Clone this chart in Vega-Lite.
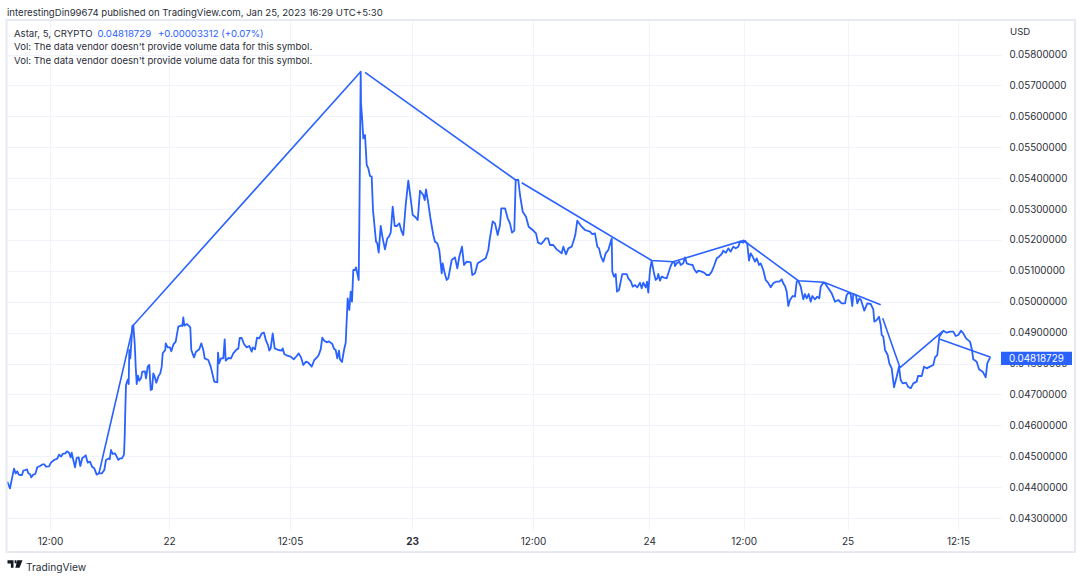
{
"$schema":"https://vega.github.io/schema/vega-lite/v6.json",
"width":994,"height":510,
"autosize":{"type":"none"},
"padding":{"left":7,"top":20,"right":82,"bottom":49},
"background":"white",
"config":{"view":{"stroke":null},"text":{"font":"Inter","fontSize":9.6,"color":"#2a2e39","align":"left","baseline":"middle"}},
"datasets":{
"drawing":[
{"leg":"a","t":9.9,"price":0.044447},{"leg":"a","t":13.33,"price":0.049237},{"leg":"a","t":36.07,"price":0.057444},
{"leg":"b","t":36.5,"price":0.057424},{"leg":"b","t":51.57,"price":0.053939},
{"leg":"c","t":52.17,"price":0.053851},{"leg":"c","t":65.17,"price":0.051334},{"leg":"c","t":67.33,"price":0.051295},{"leg":"c","t":74.35,"price":0.051981},{"leg":"c","t":79.83,"price":0.05068},{"leg":"c","t":82.4,"price":0.050628},{"leg":"c","t":88.07,"price":0.049903},
{"leg":"d","t":88.27,"price":0.049463},{"leg":"d","t":90,"price":0.047864},{"leg":"d","t":94.23,"price":0.049029},
{"leg":"e","t":94,"price":0.048784},{"leg":"e","t":99.07,"price":0.048201}
],
"close":[
{"t":0.7,"price":0.044177},{"t":0.83,"price":0.044101},{"t":1,"price":0.043961},{"t":1.2,"price":0.044285},{"t":1.4,"price":0.044597},{"t":1.57,"price":0.044446},{"t":1.73,"price":0.044511},{"t":1.87,"price":0.044403},{"t":2,"price":0.044392},{"t":2.2,"price":0.044392},{"t":2.33,"price":0.044533},{"t":2.53,"price":0.044554},{"t":2.7,"price":0.044576},{"t":2.83,"price":0.044446},{"t":3,"price":0.044425},{"t":3.13,"price":0.044317},{"t":3.33,"price":0.044403},{"t":3.53,"price":0.044425},{"t":3.73,"price":0.044641},{"t":4,"price":0.044684},{"t":4.27,"price":0.044738},{"t":4.43,"price":0.044738},{"t":4.6,"price":0.044662},{"t":4.9,"price":0.044673},{"t":5.1,"price":0.044792},{"t":5.4,"price":0.044878},{"t":5.73,"price":0.044921},{"t":5.9,"price":0.04505},{"t":6.1,"price":0.044986},{"t":6.27,"price":0.045072},{"t":6.53,"price":0.045094},{"t":6.7,"price":0.045158},{"t":6.9,"price":0.045115},{"t":7.07,"price":0.044964},{"t":7.17,"price":0.045115},{"t":7.33,"price":0.044878},{"t":7.5,"price":0.044641},{"t":7.67,"price":0.044943},{"t":7.87,"price":0.044964},{"t":8.03,"price":0.044684},{"t":8.23,"price":0.044943},{"t":8.43,"price":0.044986},{"t":8.57,"price":0.045029},{"t":8.77,"price":0.044792},{"t":9,"price":0.044824},{"t":9.2,"price":0.044662},{"t":9.43,"price":0.044608},{"t":9.67,"price":0.044403},{"t":9.9,"price":0.044446},{"t":10.2,"price":0.044446},{"t":10.43,"price":0.044554},{"t":10.6,"price":0.044878},{"t":10.9,"price":0.044932},{"t":10.97,"price":0.044899},{"t":11.1,"price":0.045201},{"t":11.27,"price":0.045072},{"t":11.5,"price":0.045094},{"t":11.67,"price":0.044986},{"t":11.83,"price":0.044878},{"t":12,"price":0.044932},{"t":12.2,"price":0.044932},{"t":12.4,"price":0.04505},{"t":12.47,"price":0.045633},{"t":12.53,"price":0.046496},{"t":12.6,"price":0.047305},{"t":12.7,"price":0.047413},{"t":12.8,"price":0.047488},{"t":12.87,"price":0.047337},{"t":12.93,"price":0.048438},{"t":13.03,"price":0.048168},{"t":13.13,"price":0.048653},{"t":13.23,"price":0.049214},{"t":13.33,"price":0.049236},{"t":13.47,"price":0.048653},{"t":13.57,"price":0.047898},{"t":13.67,"price":0.047337},{"t":13.8,"price":0.047607},{"t":13.93,"price":0.047445},{"t":14.1,"price":0.047521},{"t":14.23,"price":0.047736},{"t":14.5,"price":0.047747},{"t":14.6,"price":0.047521},{"t":14.77,"price":0.047898},{"t":14.93,"price":0.047952},{"t":15.07,"price":0.047143},{"t":15.2,"price":0.047165},{"t":15.33,"price":0.047682},{"t":15.47,"price":0.047575},{"t":15.63,"price":0.04738},{"t":15.83,"price":0.047575},{"t":16.03,"price":0.047682},{"t":16.17,"price":0.047898},{"t":16.27,"price":0.04833},{"t":16.53,"price":0.048438},{"t":16.57,"price":0.048653},{"t":16.77,"price":0.048524},{"t":17,"price":0.048524},{"t":17.13,"price":0.048394},{"t":17.33,"price":0.04861},{"t":17.57,"price":0.048707},{"t":17.83,"price":0.049193},{"t":18.17,"price":0.049236},{"t":18.23,"price":0.049214},{"t":18.33,"price":0.049495},{"t":18.43,"price":0.049225},{"t":18.67,"price":0.049279},{"t":18.87,"price":0.049225},{"t":19.03,"price":0.049171},{"t":19.13,"price":0.048438},{"t":19.4,"price":0.0482},{"t":19.6,"price":0.048383},{"t":19.93,"price":0.048459},{"t":20.13,"price":0.048653},{"t":20.33,"price":0.048437},{"t":20.47,"price":0.048167},{"t":20.83,"price":0.048114},{"t":21.07,"price":0.047898},{"t":21.43,"price":0.047412},{"t":21.73,"price":0.047391},{"t":21.8,"price":0.048351},{"t":21.9,"price":0.048006},{"t":22.1,"price":0.048167},{"t":22.33,"price":0.048167},{"t":22.47,"price":0.048782},{"t":22.57,"price":0.048092},{"t":22.83,"price":0.048178},{"t":23.1,"price":0.048167},{"t":23.33,"price":0.048329},{"t":23.67,"price":0.048459},{"t":23.83,"price":0.04848},{"t":23.97,"price":0.048825},{"t":24.17,"price":0.048825},{"t":24.4,"price":0.048631},{"t":24.67,"price":0.048523},{"t":24.93,"price":0.048567},{"t":25.17,"price":0.048383},{"t":25.27,"price":0.048523},{"t":25.5,"price":0.048459},{"t":25.7,"price":0.048836},{"t":25.93,"price":0.048815},{"t":26.17,"price":0.048976},{"t":26.4,"price":0.048998},{"t":26.6,"price":0.048739},{"t":26.8,"price":0.048599},{"t":26.93,"price":0.048416},{"t":27.07,"price":0.048491},{"t":27.27,"price":0.048976},{"t":27.47,"price":0.048491},{"t":27.83,"price":0.048437},{"t":28.17,"price":0.048416},{"t":28.27,"price":0.048491},{"t":28.43,"price":0.048308},{"t":28.73,"price":0.048254},{"t":29.07,"price":0.048221},{"t":29.37,"price":0.048135},{"t":29.67,"price":0.048243},{"t":29.87,"price":0.048329},{"t":30.1,"price":0.0482},{"t":30.33,"price":0.047952},{"t":30.6,"price":0.04806},{"t":30.83,"price":0.048027},{"t":31.17,"price":0.047898},{"t":31.43,"price":0.048114},{"t":31.67,"price":0.048189},{"t":31.87,"price":0.048275},{"t":32.07,"price":0.048459},{"t":32.23,"price":0.048836},{"t":32.43,"price":0.048739},{"t":32.67,"price":0.048685},{"t":32.9,"price":0.048718},{"t":33.23,"price":0.048631},{"t":33.4,"price":0.04848},{"t":33.57,"price":0.048437},{"t":33.73,"price":0.048167},{"t":33.9,"price":0.048416},{"t":34,"price":0.048135},{"t":34.2,"price":0.048049},{"t":34.4,"price":0.048437},{"t":34.57,"price":0.048674},{"t":34.67,"price":0.049408},{"t":34.77,"price":0.050109},{"t":34.93,"price":0.049732},{"t":35.07,"price":0.050325},{"t":35.2,"price":0.050001},{"t":35.33,"price":0.051026},{"t":35.5,"price":0.051026},{"t":35.6,"price":0.051112},{"t":35.73,"price":0.050918},{"t":35.87,"price":0.050703},{"t":35.93,"price":0.052428},{"t":36.07,"price":0.057444},{"t":36.1,"price":0.05642},{"t":36.2,"price":0.055988},{"t":36.33,"price":0.055287},{"t":36.5,"price":0.055395},{"t":36.67,"price":0.054424},{"t":36.83,"price":0.054316},{"t":37,"price":0.054068},{"t":37.17,"price":0.054047},{"t":37.3,"price":0.052968},{"t":37.6,"price":0.051943},{"t":37.73,"price":0.051889},{"t":37.87,"price":0.051587},{"t":38.07,"price":0.05245},{"t":38.27,"price":0.052051},{"t":38.5,"price":0.051695},{"t":38.73,"price":0.052051},{"t":38.9,"price":0.052105},{"t":39.07,"price":0.052234},{"t":39.27,"price":0.053076},{"t":39.47,"price":0.05245},{"t":39.67,"price":0.05245},{"t":39.93,"price":0.052536},{"t":40.17,"price":0.052267},{"t":40.33,"price":0.052159},{"t":40.57,"price":0.05313},{"t":40.83,"price":0.053917},{"t":41,"price":0.053507},{"t":41.27,"price":0.052806},{"t":41.5,"price":0.052752},{"t":41.77,"price":0.052644},{"t":42,"price":0.053593},{"t":42.33,"price":0.053453},{"t":42.47,"price":0.053291},{"t":42.6,"price":0.053637},{"t":42.83,"price":0.053184},{"t":43.07,"price":0.052644},{"t":43.33,"price":0.052159},{"t":43.5,"price":0.051943},{"t":43.73,"price":0.051889},{"t":43.93,"price":0.051673},{"t":44.17,"price":0.050918},{"t":44.27,"price":0.051242},{"t":44.47,"price":0.050918},{"t":44.67,"price":0.050703},{"t":44.83,"price":0.050757},{"t":45.17,"price":0.05135},{"t":45.5,"price":0.051436},{"t":45.73,"price":0.05108},{"t":45.93,"price":0.051458},{"t":46.2,"price":0.051781},{"t":46.4,"price":0.051188},{"t":46.67,"price":0.051296},{"t":47.07,"price":0.051274},{"t":47.23,"price":0.050864},{"t":47.5,"price":0.050918},{"t":47.77,"price":0.051242},{"t":48.17,"price":0.051328},{"t":48.57,"price":0.051404},{"t":48.83,"price":0.051673},{"t":48.97,"price":0.052019},{"t":49.27,"price":0.052601},{"t":49.5,"price":0.052536},{"t":49.77,"price":0.052159},{"t":50,"price":0.052482},{"t":50.13,"price":0.053022},{"t":50.5,"price":0.053022},{"t":50.77,"price":0.052698},{"t":51,"price":0.052536},{"t":51.2,"price":0.052234},{"t":51.43,"price":0.052299},{"t":51.57,"price":0.053939},{"t":51.83,"price":0.053939},{"t":52,"price":0.053453},{"t":52.27,"price":0.052914},{"t":52.6,"price":0.052752},{"t":52.87,"price":0.052428},{"t":53.27,"price":0.052321},{"t":53.6,"price":0.052213},{"t":53.8,"price":0.051911},{"t":54.1,"price":0.051867},{"t":54.33,"price":0.051943},{"t":54.57,"price":0.052051},{"t":54.8,"price":0.052051},{"t":55,"price":0.051835},{"t":55.33,"price":0.051835},{"t":55.67,"price":0.051695},{"t":56.17,"price":0.051566},{"t":56.33,"price":0.051781},{"t":56.6,"price":0.051533},{"t":56.83,"price":0.051727},{"t":57.17,"price":0.051781},{"t":57.33,"price":0.051943},{"t":57.53,"price":0.052159},{"t":57.73,"price":0.052623},{"t":58.17,"price":0.052428},{"t":58.5,"price":0.052321},{"t":59,"price":0.052267},{"t":59.23,"price":0.052191},{"t":59.5,"price":0.052213},{"t":59.73,"price":0.051781},{"t":59.9,"price":0.051727},{"t":60.1,"price":0.051458},{"t":60.33,"price":0.051296},{"t":60.57,"price":0.051566},{"t":60.83,"price":0.051673},{"t":61.17,"price":0.052051},{"t":61.23,"price":0.050972},{"t":61.4,"price":0.05081},{"t":61.57,"price":0.050896},{"t":61.7,"price":0.050325},{"t":61.9,"price":0.050379},{"t":62.07,"price":0.050648},{"t":62.23,"price":0.050896},{"t":62.67,"price":0.050896},{"t":62.83,"price":0.050756},{"t":63.1,"price":0.050648},{"t":63.27,"price":0.050487},{"t":63.5,"price":0.05054},{"t":63.73,"price":0.050465},{"t":64,"price":0.050616},{"t":64.17,"price":0.050433},{"t":64.33,"price":0.050616},{"t":64.57,"price":0.050465},{"t":64.7,"price":0.050648},{"t":64.83,"price":0.050292},{"t":65,"price":0.051026},{"t":65.17,"price":0.051328},{"t":65.4,"price":0.050919},{"t":65.57,"price":0.050703},{"t":65.73,"price":0.050757},{"t":65.83,"price":0.050897},{"t":66,"price":0.050681},{"t":66.17,"price":0.050811},{"t":66.4,"price":0.050778},{"t":66.67,"price":0.050757},{"t":66.83,"price":0.050919},{"t":67.07,"price":0.051156},{"t":67.23,"price":0.051264},{"t":67.43,"price":0.051296},{"t":67.5,"price":0.051156},{"t":67.67,"price":0.051242},{"t":67.93,"price":0.051296},{"t":68.07,"price":0.051188},{"t":68.33,"price":0.051242},{"t":68.5,"price":0.051436},{"t":68.67,"price":0.051242},{"t":68.93,"price":0.05121},{"t":69.27,"price":0.051188},{"t":69.43,"price":0.051048},{"t":69.67,"price":0.05094},{"t":69.83,"price":0.051005},{"t":70.17,"price":0.050973},{"t":70.4,"price":0.05094},{"t":70.67,"price":0.050865},{"t":70.93,"price":0.050865},{"t":71.17,"price":0.050973},{"t":71.4,"price":0.051156},{"t":71.67,"price":0.051404},{"t":71.9,"price":0.051458},{"t":72.17,"price":0.051544},{"t":72.33,"price":0.051652},{"t":72.6,"price":0.051587},{"t":72.83,"price":0.051728},{"t":73.07,"price":0.05162},{"t":73.33,"price":0.051782},{"t":73.57,"price":0.051728},{"t":73.83,"price":0.051782},{"t":74,"price":0.051943},{"t":74.33,"price":0.051911},{"t":74.5,"price":0.051976},{"t":74.73,"price":0.051868},{"t":74.9,"price":0.051329},{"t":75.07,"price":0.051566},{"t":75.23,"price":0.05148},{"t":75.5,"price":0.051296},{"t":75.67,"price":0.051404},{"t":75.9,"price":0.051188},{"t":76.07,"price":0.051242},{"t":76.33,"price":0.051027},{"t":76.57,"price":0.050703},{"t":76.8,"price":0.050617},{"t":77.07,"price":0.050466},{"t":77.33,"price":0.050595},{"t":77.6,"price":0.050649},{"t":77.93,"price":0.050649},{"t":78.17,"price":0.050725},{"t":78.33,"price":0.050595},{"t":78.53,"price":0.050487},{"t":78.67,"price":0.050325},{"t":78.83,"price":0.049862},{"t":79,"price":0.050056},{"t":79.27,"price":0.050185},{"t":79.5,"price":0.050164},{"t":79.67,"price":0.050649},{"t":79.83,"price":0.050681},{"t":80.07,"price":0.050487},{"t":80.33,"price":0.050077},{"t":80.5,"price":0.050249},{"t":80.67,"price":0.050109},{"t":80.87,"price":0.050249},{"t":81.07,"price":0.050001},{"t":81.23,"price":0.050185},{"t":81.5,"price":0.050077},{"t":81.73,"price":0.050163},{"t":81.93,"price":0.050109},{"t":82.07,"price":0.050487},{"t":82.33,"price":0.050616},{"t":82.5,"price":0.050595},{"t":82.83,"price":0.050433},{"t":83.17,"price":0.050271},{"t":83.5,"price":0.050001},{"t":83.83,"price":0.050055},{"t":84.17,"price":0.049947},{"t":84.5,"price":0.049947},{"t":84.67,"price":0.050217},{"t":84.87,"price":0.050292},{"t":85.07,"price":0.050249},{"t":85.23,"price":0.049861},{"t":85.33,"price":0.050249},{"t":85.6,"price":0.050217},{"t":85.73,"price":0.049947},{"t":85.93,"price":0.050109},{"t":86.1,"price":0.050055},{"t":86.43,"price":0.04971},{"t":86.73,"price":0.049947},{"t":87.07,"price":0.049926},{"t":87.33,"price":0.049753},{"t":87.43,"price":0.049354},{"t":87.67,"price":0.049408},{"t":87.9,"price":0.049516},{"t":88.07,"price":0.049246},{"t":88.17,"price":0.048923},{"t":88.33,"price":0.048869},{"t":88.5,"price":0.048437},{"t":88.77,"price":0.048275},{"t":88.93,"price":0.048006},{"t":89.17,"price":0.047844},{"t":89.4,"price":0.047229},{"t":89.67,"price":0.047574},{"t":89.9,"price":0.047898},{"t":90.07,"price":0.047466},{"t":90.27,"price":0.047358},{"t":90.6,"price":0.04738},{"t":90.8,"price":0.047251},{"t":91.07,"price":0.047197},{"t":91.33,"price":0.047358},{"t":91.67,"price":0.047412},{"t":91.8,"price":0.047596},{"t":92.17,"price":0.047596},{"t":92.4,"price":0.047898},{"t":92.67,"price":0.047844},{"t":93,"price":0.047898},{"t":93.33,"price":0.047952},{"t":93.5,"price":0.0482},{"t":93.73,"price":0.048275},{"t":93.93,"price":0.048869},{"t":94.33,"price":0.049063},{"t":94.67,"price":0.048998},{"t":95,"price":0.04903},{"t":95.33,"price":0.04903},{"t":95.57,"price":0.04889},{"t":95.83,"price":0.048923},{"t":96.1,"price":0.049063},{"t":96.33,"price":0.048976},{"t":96.6,"price":0.048815},{"t":97,"price":0.048707},{"t":97.2,"price":0.048437},{"t":97.33,"price":0.048135},{"t":97.67,"price":0.04806},{"t":97.9,"price":0.047811},{"t":98.27,"price":0.047736},{"t":98.57,"price":0.047553},{"t":98.73,"price":0.048006},{"t":99,"price":0.04818729}
]
},
"layer":[
{"data":{"name":"close"},
"mark":{"type":"line","color":"#2962ff","strokeWidth":1.8,"strokeJoin":"round"},
"encoding":{
"x":{"field":"t","type":"quantitative","title":null,"scale":{"domain":[0.7,100.1],"nice":false,"zero":false},
"axis":{"values":[5,16.9,29,41.2,53.3,64.93,74.37,84.75,95.8],"domain":false,"ticks":false,"grid":true,"gridColor":"#f0f3fa","gridWidth":1,"labelFont":"Inter","labelFontSize":10,"labelColor":"#2a2e39","labelPadding":6,"labelFlush":false,"labelOverlap":false,"labelFontWeight":{"condition":{"test":"datum.value==41.2","value":"bold"},"value":"normal"},"labelExpr":"datum.value==5?'12:00':datum.value==16.9?'22':datum.value==29?'12:05':datum.value==41.2?'23':datum.value==53.3?'12:00':datum.value==64.93?'24':datum.value==74.37?'12:00':datum.value==84.75?'25':'12:15'"}},
"y":{"field":"price","type":"quantitative","title":null,"scale":{"domain":[0.042612,0.059117],"nice":false,"zero":false},
"axis":{"orient":"right","tickCount":16,"values":[0.043,0.044,0.045,0.046,0.047,0.048,0.049,0.05,0.051,0.052,0.053,0.054,0.055,0.056,0.057,0.058],"format":".8f","domain":false,"ticks":false,"grid":true,"gridColor":"#f0f3fa","gridWidth":1,"labelFont":"Inter","labelFontSize":9.8,"labelColor":"#2a2e39","labelPadding":8,"labelOverlap":false}}
}},
{"data":{"name":"drawing"},
"mark":{"type":"line","color":"#2962ff","strokeWidth":1.6},
"encoding":{"x":{"field":"t","type":"quantitative"},"y":{"field":"price","type":"quantitative"},"detail":{"field":"leg"}}},
{"data":{"values":[{"box":"frame"}]},
"mark":{"type":"rect","fill":null,"stroke":"#e8eaf2","strokeWidth":2},
"encoding":{"x":{"datum":0.65},"x2":{"datum":107.5},"y":{"datum":0.059117},"y2":{"datum":0.0419}}},
{"data":{"values":[{"box":"last"}]},
"mark":{"type":"rect","fill":"#2962ff"},
"encoding":{"x":{"datum":100.1},"x2":{"datum":107.2},"y":{"datum":0.048382},"y2":{"datum":0.047952}}},
{"data":{"values":[{"label":"0.04818729"}]},
"mark":{"type":"text","color":"white","fontSize":9.8},
"encoding":{"x":{"datum":100.9},"y":{"datum":0.04815},"text":{"field":"label"}}},
{"data":{"values":[{"label":"interestingDin99674 published on TradingView.com, Jan 25, 2023 16:29 UTC+5:30"}]},
"mark":{"type":"text"},
"encoding":{"x":{"datum":0.7},"y":{"datum":0.059344},"text":{"field":"label"}}},
{"data":{"values":[{"label":"Astar, 5, CRYPTO"}]},
"mark":{"type":"text"},
"encoding":{"x":{"datum":1.4},"y":{"datum":0.058664},"text":{"field":"label"}}},
{"data":{"values":[{"label":"0.04818729"}]},
"mark":{"type":"text","color":"#2962ff"},
"encoding":{"x":{"datum":9.75},"y":{"datum":0.058664},"text":{"field":"label"}}},
{"data":{"values":[{"label":"+0.00003312 (+0.07%)"}]},
"mark":{"type":"text","color":"#2962ff"},
"encoding":{"x":{"datum":15.8},"y":{"datum":0.058664},"text":{"field":"label"}}},
{"data":{"values":[{"label":"Vol: The data vendor doesn't provide volume data for this symbol."}]},
"mark":{"type":"text"},
"encoding":{"x":{"datum":1.4},"y":{"datum":0.058243},"text":{"field":"label"}}},
{"data":{"values":[{"label":"Vol: The data vendor doesn't provide volume data for this symbol."}]},
"mark":{"type":"text"},
"encoding":{"x":{"datum":1.4},"y":{"datum":0.05779},"text":{"field":"label"}}},
{"data":{"values":[{"label":"USD"}]},
"mark":{"type":"text"},
"encoding":{"x":{"datum":101},"y":{"datum":0.058729},"text":{"field":"label"}}},
{"data":{"values":[{"label":"TradingView"}]},
"mark":{"type":"text","fontSize":10.2},
"encoding":{"x":{"datum":2.6},"y":{"datum":0.041383},"text":{"field":"label"}}},
{"data":{"values":[{"label":"logo"}]},
"mark":{"type":"point","filled":true,"color":"#131722","opacity":1,"size":225,"shape":"M-1,-.5H-.2V.5H-.55V-.05H-1ZM-.05,-.5H.2V-.1H-.05ZM.3,-.5H1L.6,.5H.05Z"},
"encoding":{"x":{"datum":1.5},"y":{"datum":0.041512}}}
]
}
